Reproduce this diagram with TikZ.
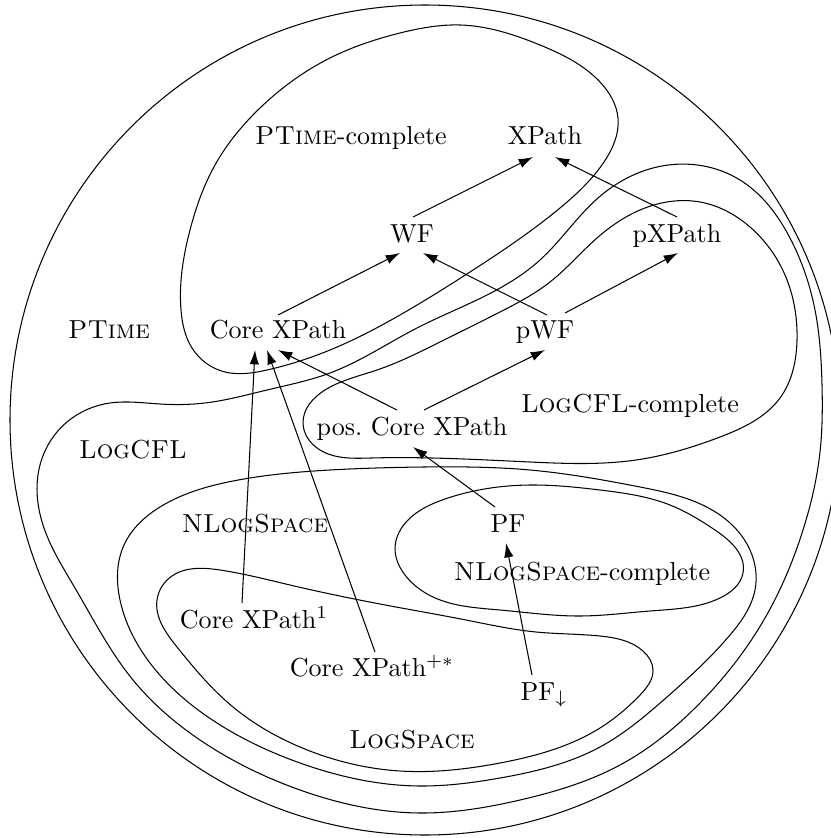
\documentclass[tikz,border=0pt]{standalone}
\usetikzlibrary{calc,arrows.meta,hobby}
\begin{document}
\begin{tikzpicture}[x=0.384pt,y=-0.384pt,
  lbl/.style={anchor=base,inner sep=0pt},
  arr/.style={-{Latex[length=5.5pt,width=3.6pt]},line width=0.4pt},
  region/.style={line width=0.4pt}]
\useasboundingbox (0,0) rectangle (831,838);
\clip (0,0) rectangle (831,838);
% PTime (outer circle)
\draw[region] (425,420) circle[radius=159.36pt];
% PTime-complete
\draw[region] plot[closed hobby] coordinates{
 (181,310) (190,230) (215,165) (260,108) (330,58) (400,33) (460,25) (540,45)
 (600,82) (618,118) (604,162) (560,208) (470,272) (400,315) (330,350) (267,370)
 (225,372) (192,348)};
% LogCFL
\draw[region] plot[closed hobby] coordinates{
 (662,166) (740,180) (790,238) (815,310) (822,385) (820,452) (803,530) (765,618)
 (700,703) (620,765) (520,800) (420,813) (300,790) (200,740) (133,680) (75,588)
 (44,528) (40,465) (67,422) (110,403) (160,404) (205,403) (267,390) (330,373)
 (417,328) (483,297) (540,260) (598,198)};
% LogCFL-complete
\draw[region] plot[closed hobby] coordinates{
 (303,423) (320,450) (371,458) (530,462) (636,460) (720,437) (780,398) (797,340)
 (785,275) (750,227) (700,202) (640,210) (597,238) (550,282) (500,312) (440,342)
 (377,370) (325,390)};
% NLogSpace
\draw[region] plot[closed hobby] coordinates{
 (124,545) (160,507) (233,481) (330,470) (424,467) (530,470) (640,487)
 (717,513) (750,550) (755,590) (730,635) (667,697) (600,747) (500,778) (420,786)
 (300,763) (217,723) (150,663) (120,600)};
% NLogSpace-complete
\draw[region] plot[closed hobby] coordinates{
 (395,548) (408,520) (445,499) (530,485) (600,490) (670,505) (715,530) (743,573)
 (720,598) (650,611) (580,616) (500,610) (433,597) (405,575)};
% LogSpace
\draw[region] plot[closed hobby] coordinates{
 (157,600) (172,576) (220,570) (290,585) (396,607) (466,620) (536,632) (600,636)
 (643,651) (653,670) (640,695) (600,728) (500,763) (400,771) (300,747) (233,707)
 (177,647)};
% labels
\node[lbl] (ptc) at (351,145) {\textsc{PTime}-complete};
\node[lbl] (xpath) at (545,145) {XPath};
\node[lbl] (wf) at (412,242) {WF};
\node[lbl] (pxpath) at (677,242) {pXPath};
\node[lbl] (ptime) at (109,338) {\textsc{PTime}};
\node[lbl] (core) at (278,338) {Core XPath};
\node[lbl] (pwf) at (545,338) {pWF};
\node[lbl] (lcc) at (630,412) {\textsc{LogCFL}-complete};
\node[lbl] (pos) at (412,435) {pos.\ Core XPath};
\node[lbl] (logcfl) at (133,458) {\textsc{LogCFL}};
\node[lbl] (nls) at (255,532) {\textsc{NLogSpace}};
\node[lbl] (pf) at (508,532) {PF};
\node[lbl] (nlsc) at (582,580) {\textsc{NLogSpace}-complete};
\node[lbl] (core1) at (254,628) {Core XPath$^1$};
\node[lbl] (coreps) at (372,676) {Core XPath$^{+*}$};
\node[lbl] (pfd) at (544,700) {PF$_\downarrow$};
\node[lbl] (ls) at (412,748) {\textsc{LogSpace}};
% arrows
\draw[arr] ($(wf.base)+(1,-25)$) -- ($(xpath.base)+(-12,12)$);
\draw[arr] ($(pxpath.base)+(0,-25)$) -- ($(xpath.base)+(10,12)$);
\draw[arr] ($(core.base)+(0,-23)$) -- ($(wf.base)+(-12,11)$);
\draw[arr] ($(pwf.base)+(2,-23)$) -- ($(wf.base)+(11,11)$);
\draw[arr] ($(pwf.base)+(20,-25)$) -- ($(pxpath.base)+(1,11)$);
\draw[arr] ($(pos.base)+(-15,-25)$) -- ($(core.base)+(0,12)$);
\draw[arr] ($(pos.base)+(12,-25)$) -- ($(pwf.base)+(0,12)$);
\draw[arr] ($(core1.base)+(-12,-25)$) -- ($(core.base)+(-23,12)$);
\draw[arr] ($(coreps.base)+(3,-24)$) -- ($(core.base)+(-11,12)$);
\draw[arr] ($(pf.base)+(-13,-25)$) -- ($(pos.base)+(1,12)$);
\draw[arr] ($(pfd.base)+(-12,-25)$) -- ($(pf.base)+(-2,11)$);
\end{tikzpicture}
\end{document}
